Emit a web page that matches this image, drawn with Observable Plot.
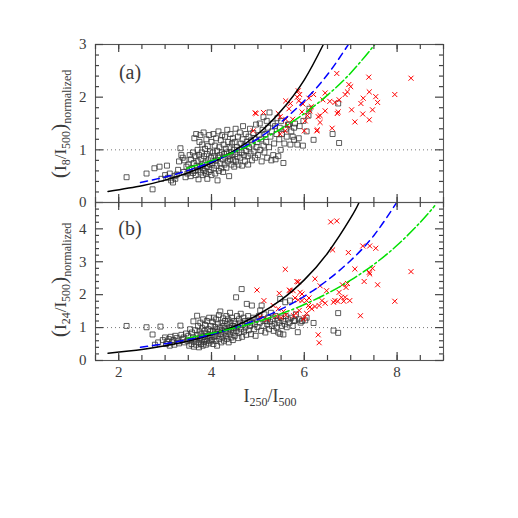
<!DOCTYPE html>
<html>
<head>
<meta charset="utf-8">
<script src="https://cdn.jsdelivr.net/npm/d3@7"></script>
<script src="https://cdn.jsdelivr.net/npm/@observablehq/plot@0.6"></script>
<style>
  html, body { margin: 0; padding: 0; background: white; }
  #wrap { position: relative; width: 518px; height: 518px; overflow: hidden; }
  #wrap svg { position: absolute; left: 0; }
</style>
</head>
<body>
<div id="wrap"></div>
<script>
// ---------- data ----------
const xDomain = [1.5, 9];
const yDomainA = [0, 3];
const yDomainB = [0, 4.8];
const xTickLabels = [2, 4, 6, 8];
const xMinorTicks = [1.5, 2, 2.5, 3, 3.5, 4, 4.5, 5, 5.5, 6, 6.5, 7, 7.5, 8, 8.5, 9];
const yTickLabelsA = [0, 1, 2, 3];
const yTickLabelsB = [0, 1, 2, 3, 4];
const yMinorA = [0.2, 0.4, 0.6, 0.8, 1.2, 1.4, 1.6, 1.8, 2.2, 2.4, 2.6, 2.8];
const yMinorB = [0.2, 0.4, 0.6, 0.8, 1.2, 1.4, 1.6, 1.8, 2.2, 2.4, 2.6, 2.8, 3.2, 3.4, 3.6, 3.8, 4.2, 4.4, 4.6];

// panel (a): model curves
const blackA = [[1.77,0.21],[2.5,0.32],[3.0,0.425],[3.5,0.565],[4.0,0.75],[4.5,0.99],[5.0,1.3],[5.5,1.74],[6.0,2.33],[6.41,3.0]];
const blueA  = [[2.47,0.38],[3.0,0.485],[3.5,0.61],[4.0,0.77],[4.5,0.965],[5.0,1.215],[5.5,1.53],[6.0,1.93],[6.5,2.43],[6.95,3.0]];
const greenA = [[3.47,0.65],[4.0,0.795],[4.5,0.96],[5.0,1.16],[5.5,1.4],[6.0,1.69],[6.5,2.04],[7.0,2.46],[7.52,3.0]];

// panel (b): model curves
const blackB = [[1.77,0.22],[2.5,0.335],[3.0,0.445],[3.5,0.59],[4.0,0.785],[4.5,1.04],[5.0,1.39],[5.5,1.84],[6.0,2.45],[6.5,3.26],[7.0,4.33],[7.18,4.8]];
const blueB  = [[2.47,0.40],[3.0,0.51],[3.5,0.635],[4.0,0.795],[4.5,0.995],[5.0,1.25],[5.5,1.56],[6.0,1.95],[6.5,2.44],[7.0,3.04],[7.5,3.8],[7.99,4.8]];
const greenB = [[3.47,0.68],[4.0,0.825],[4.5,0.985],[5.0,1.18],[5.5,1.42],[6.0,1.70],[6.5,2.04],[7.0,2.44],[7.5,2.92],[8.0,3.5],[8.5,4.2],[8.81,4.7]];

// panel (a): open squares
const squaresA = [
[2.17,0.48],[2.6,0.55],[2.73,0.25],[2.77,0.65],[2.88,0.68],[2.92,0.45],[3.0,0.52],[3.04,0.70],[3.06,0.47],[3.1,0.55],[3.13,0.42],[3.17,0.38],[3.2,0.5],[3.22,0.45],[3.25,0.53],[3.28,0.62],[3.3,0.78],[3.33,1.03],[3.35,0.9],[3.38,0.85],[3.4,0.58],[3.42,0.8],[3.44,0.48],[3.46,0.68],[3.48,0.55],
[3.5,0.72],[3.52,0.62],[3.53,0.9],[3.55,0.5],[3.56,0.82],[3.58,0.65],[3.6,0.95],[3.6,0.56],[3.62,0.75],[3.63,1.22],[3.64,0.6],[3.65,0.88],[3.66,0.52],[3.67,1.3],[3.68,0.7],[3.7,0.78],[3.7,1.0],[3.71,0.62],[3.72,0.44],[3.73,0.9],[3.74,1.15],[3.75,0.68],[3.76,1.28],[3.77,0.57],[3.78,0.83],[3.79,0.95],[3.8,0.72],[3.8,1.1],[3.81,0.52],[3.82,0.65],[3.83,1.33],[3.84,0.88],[3.85,0.6],[3.86,1.02],[3.87,0.76],[3.88,0.55],[3.89,1.2],[3.9,0.92],[3.9,0.68],[3.91,0.45],[3.92,1.07],[3.93,0.8],[3.94,0.58],[3.95,1.28],[3.96,0.73],[3.97,0.97],[3.98,0.62],[3.99,0.85],[4.0,1.15],[4.0,0.52],
[4.02,0.75],[4.03,0.95],[4.04,1.3],[4.05,0.65],[4.06,0.88],[4.07,1.08],[4.08,0.55],[4.09,0.8],[4.1,1.22],[4.11,0.7],[4.12,0.98],[4.13,0.42],[4.14,0.85],[4.15,1.35],[4.16,0.6],[4.17,1.05],[4.18,0.9],[4.19,0.74],[4.2,1.18],[4.21,0.65],[4.22,0.95],[4.23,1.28],[4.24,0.82],[4.25,0.58],[4.26,1.1],[4.27,0.92],[4.28,0.72],[4.29,1.25],[4.3,0.85],[4.31,1.02],[4.32,0.66],[4.33,0.95],[4.34,1.38],[4.35,0.78],[4.36,1.15],[4.37,0.88],[4.38,0.5],[4.39,1.05],[4.4,0.82],[4.41,1.3],[4.42,0.95],[4.43,0.72],[4.44,1.12],[4.45,0.9],[4.46,1.22],[4.47,0.8],[4.48,1.0],[4.49,0.68],
[4.5,1.15],[4.51,0.92],[4.52,1.4],[4.53,0.78],[4.55,1.05],[4.56,0.87],[4.57,1.25],[4.58,0.72],[4.6,1.0],[4.61,1.33],[4.62,0.85],[4.63,1.12],[4.65,0.95],[4.66,0.7],[4.67,1.2],[4.68,1.45],[4.7,0.9],[4.71,1.08],[4.72,0.78],[4.74,1.3],[4.75,0.98],[4.76,1.15],[4.78,0.88],[4.79,0.72],[4.8,1.25],[4.81,1.05],[4.83,1.4],[4.84,0.93],[4.85,1.18],[4.87,0.8],[4.88,1.1],[4.9,1.32],[4.91,0.97],[4.93,1.22],[4.94,0.85],[4.96,1.48],[4.97,1.05],[4.99,1.15],[5.0,0.9],
[5.02,1.28],[5.04,1.5],[5.05,1.0],[5.07,1.2],[5.08,0.78],[5.1,1.38],[5.12,1.62],[5.12,1.08],[5.14,0.95],[5.16,1.3],[5.18,1.15],[5.19,1.55],[5.2,0.85],[5.22,1.42],[5.24,1.05],[5.25,1.71],[5.27,1.25],[5.29,0.8],[5.3,1.35],[5.32,1.5],[5.33,0.9],[5.35,1.12],[5.37,1.45],[5.38,0.82],[5.4,1.3],[5.42,1.6],[5.44,0.88],[5.46,1.2],[5.47,1.42],[5.49,1.0],[5.5,1.55],[5.52,1.3],[5.55,0.75],[5.57,1.12],[5.6,1.4],
[5.62,1.25],[5.65,1.48],[5.67,1.48],[5.7,1.1],[5.72,1.35],[5.75,1.25],[5.78,1.42],[5.78,1.19],[5.8,1.5],[5.85,1.1],[5.88,1.22],[5.9,1.45],[5.97,1.08],[5.98,1.55],[6.05,1.35],[6.09,1.65],[6.11,1.78],[6.2,1.19],[6.61,1.3],[6.73,1.88],[6.75,1.13]
];

// panel (a): crosses
const crossesA = [
[4.9,1.36],[4.94,1.70],[4.96,1.69],[5.12,1.71],[5.44,1.69],[5.48,1.63],[5.48,1.30],[5.59,1.36],[5.6,1.58],[5.6,1.93],[5.64,1.46],[5.67,1.78],[5.7,1.88],[5.75,1.58],[5.85,2.0],[5.87,2.12],[5.88,1.93],[5.9,2.05],[5.95,1.72],[5.97,1.87],[6.0,1.36],[6.02,1.55],[6.07,1.65],[6.1,1.98],[6.12,1.74],[6.15,1.82],[6.2,2.05],[6.27,1.36],[6.28,1.38],[6.3,1.63],[6.34,1.65],[6.34,1.52],[6.4,1.95],[6.45,1.74],[6.45,2.08],[6.55,1.92],[6.6,1.41],[6.66,1.90],[6.7,2.45],[6.71,1.69],[6.73,1.72],[6.75,1.95],[6.88,2.05],[6.93,2.1],[6.96,2.24],[7.0,2.2],[7.02,1.76],[7.09,1.53],[7.22,1.88],[7.26,1.68],[7.27,1.98],[7.39,2.38],[7.4,2.10],[7.4,1.57],[7.47,1.76],[7.54,2.01],[7.58,1.90],[7.95,2.05],[8.3,2.36]
];

// panel (b): open squares
const squaresB = [
[2.17,1.05],[2.6,1.01],[2.73,0.79],[2.78,0.48],[2.85,0.55],[2.9,1.03],[2.95,0.62],[3.0,0.7],[3.02,0.5],[3.05,0.58],[3.08,0.65],[3.1,0.45],[3.12,0.72],[3.15,0.55],[3.18,0.62],[3.2,0.48],[3.22,0.75],[3.25,0.68],[3.28,0.58],[3.3,0.52],[3.33,1.06],[3.35,0.78],[3.38,0.65],[3.4,0.7],[3.42,0.55],[3.45,0.82],[3.48,0.6],
[3.5,0.75],[3.52,0.45],[3.54,0.95],[3.55,0.62],[3.57,0.5],[3.58,0.85],[3.6,0.7],[3.61,1.19],[3.62,0.42],[3.63,0.58],[3.65,0.92],[3.66,0.66],[3.67,0.48],[3.69,1.36],[3.7,0.78],[3.71,1.05],[3.72,0.55],[3.73,0.4],[3.74,0.88],[3.75,0.68],[3.76,1.15],[3.77,0.5],[3.78,0.8],[3.79,0.62],[3.8,0.98],[3.81,0.45],[3.82,1.25],[3.83,0.72],[3.84,0.56],[3.85,0.9],[3.86,1.08],[3.87,0.65],[3.88,0.48],[3.89,0.82],[3.9,1.2],[3.91,0.6],[3.92,0.75],[3.93,0.95],[3.94,0.52],[3.95,1.3],[3.96,0.7],[3.97,0.88],[3.98,0.58],[3.99,1.05],[4.0,0.78],
[4.01,0.62],[4.02,1.18],[4.03,0.9],[4.04,0.5],[4.05,1.3],[4.06,0.72],[4.07,1.02],[4.08,0.82],[4.09,0.6],[4.1,1.25],[4.11,0.95],[4.12,0.45],[4.13,0.75],[4.14,1.12],[4.15,0.88],[4.16,1.38],[4.17,0.65],[4.18,1.0],[4.19,1.49],[4.2,0.8],[4.21,0.55],[4.22,1.15],[4.23,0.92],[4.24,0.7],[4.25,1.28],[4.26,1.05],[4.27,0.6],[4.28,0.85],[4.29,1.2],[4.3,0.98],[4.31,0.75],[4.32,1.35],[4.33,0.65],[4.34,1.1],[4.35,0.88],[4.36,1.25],[4.37,0.55],[4.38,1.0],[4.39,0.8],[4.4,1.45],[4.41,1.15],[4.42,0.92],[4.43,0.7],[4.44,1.3],[4.45,1.05],[4.46,0.62],[4.47,0.85],[4.48,1.2],[4.49,0.98],
[4.5,0.75],[4.51,1.12],[4.53,1.92],[4.54,0.9],[4.55,1.35],[4.56,1.02],[4.58,0.68],[4.59,1.25],[4.6,0.85],[4.62,1.15],[4.63,1.42],[4.64,0.95],[4.65,2.17],[4.66,0.72],[4.67,1.08],[4.69,1.3],[4.7,0.88],[4.72,1.2],[4.73,1.0],[4.75,0.78],[4.76,1.72],[4.77,1.12],[4.79,1.35],[4.8,0.92],[4.82,1.22],[4.83,1.05],[4.85,0.8],[4.87,1.67],[4.88,1.15],[4.9,1.3],[4.92,0.95],[4.93,1.1],[4.95,0.75],[4.97,1.25],[4.99,1.02],
[5.02,1.35],[5.04,1.15],[5.05,1.52],[5.07,0.9],[5.08,1.67],[5.1,1.25],[5.12,1.05],[5.14,1.4],[5.16,0.85],[5.18,1.2],[5.2,1.1],[5.22,1.3],[5.24,0.95],[5.26,1.18],[5.28,1.45],[5.3,1.05],[5.32,1.25],[5.34,0.9],[5.36,1.12],[5.38,1.35],[5.4,1.0],[5.42,1.22],[5.44,0.85],[5.46,1.15],[5.48,1.87],[5.48,0.81],[5.5,1.3],[5.52,1.05],[5.55,0.79],[5.55,1.2],[5.58,1.1],[5.59,1.77],[5.6,1.35],
[5.62,1.01],[5.65,1.25],[5.68,1.15],[5.69,1.82],[5.72,1.3],[5.75,1.05],[5.78,1.2],[5.8,1.22],[5.82,1.4],[5.86,0.86],[5.88,1.25],[5.92,1.15],[5.95,1.2],[6.02,1.22],[6.05,1.3],[6.2,1.14],[6.63,0.91],[6.73,0.84],[6.73,1.44]
];

// panel (b): crosses
const crossesB = [
[4.98,2.14],[5.05,1.32],[5.13,1.82],[5.2,1.25],[5.33,1.67],[5.4,1.35],[5.44,1.57],[5.46,2.04],[5.5,1.3],[5.55,1.49],[5.59,2.77],[5.6,1.38],[5.68,2.14],[5.69,2.12],[5.76,2.12],[5.77,1.36],[5.8,1.9],[5.82,1.43],[5.84,2.40],[5.87,2.39],[5.87,1.84],[5.89,1.52],[5.91,2.07],[5.95,2.02],[5.95,1.82],[5.98,1.26],[6.01,1.31],[6.05,1.43],[6.05,1.82],[6.09,1.67],[6.1,1.9],[6.12,1.62],[6.16,1.57],[6.23,2.48],[6.23,1.64],[6.3,0.78],[6.32,0.54],[6.32,1.67],[6.34,2.27],[6.38,1.82],[6.45,1.74],[6.48,2.12],[6.57,4.21],[6.61,3.36],[6.63,1.77],[6.66,1.82],[6.7,4.24],[6.72,1.80],[6.75,2.07],[6.8,1.92],[6.82,2.30],[6.85,1.80],[6.88,1.92],[6.9,2.22],[6.93,2.34],[6.95,3.28],[6.98,1.82],[7.09,2.78],[7.21,1.36],[7.26,3.48],[7.29,2.40],[7.4,2.68],[7.41,3.48],[7.41,2.63],[7.47,2.80],[7.54,3.41],[7.58,2.30],[7.95,1.80],[8.3,2.70]
];

// ---------- layout ----------
const W = 518, ML = 95, MR = 75;
const PW = W - ML - MR, PH = 158;
const ink = "#3a3a3a";
const frameInk = "#555";
const tickInk = "#444";
const fontFamily = "'Liberation Serif', 'DejaVu Serif', serif";

function dataMarks(sq, cr, bk, bl, gr) {
  return [
    Plot.ruleY([1], {stroke: "#555", strokeWidth: 0.8, strokeDasharray: "1,3"}),
    Plot.dot(sq, {x: d => d[0], y: d => d[1], symbol: "square", r: 2.8, fill: "none", stroke: "#333", strokeWidth: 0.8}),
    Plot.dot(cr, {x: d => d[0], y: d => d[1], symbol: "times", r: 2.4, stroke: "#ff0000", strokeWidth: 1}),
    Plot.line(bk, {x: d => d[0], y: d => d[1], curve: "natural", stroke: "#000", strokeWidth: 1.5, clip: true}),
    Plot.line(bl, {x: d => d[0], y: d => d[1], curve: "natural", stroke: "#0000ff", strokeWidth: 1.5, strokeDasharray: "7,5", clip: true}),
    Plot.line(gr, {x: d => d[0], y: d => d[1], curve: "natural", stroke: "#00e000", strokeWidth: 1.5, strokeDasharray: "11,3,2,3", clip: true})
  ];
}

// inward ticks on all four sides, as Plot tick marks inset to a short length
function frameTicks(yMajor, yMinor) {
  const o = {stroke: tickInk, strokeWidth: 1.2};
  return [
    Plot.tickX(xMinorTicks, {...o, x: d => d, insetTop: PH - 5}),
    Plot.tickX(xMinorTicks, {...o, x: d => d, insetBottom: PH - 5}),
    Plot.tickX(xTickLabels, {...o, x: d => d, insetTop: PH - 8}),
    Plot.tickX(xTickLabels, {...o, x: d => d, insetBottom: PH - 8}),
    Plot.tickY(yMinor, {...o, y: d => d, insetRight: PW - 4}),
    Plot.tickY(yMinor, {...o, y: d => d, insetLeft: PW - 4}),
    Plot.tickY(yMajor, {...o, y: d => d, insetRight: PW - 8}),
    Plot.tickY(yMajor, {...o, y: d => d, insetLeft: PW - 8})
  ];
}

const commonStyle = {background: "transparent", overflow: "visible", fontFamily, fontSize: "15px", color: ink};

const chartA = Plot.plot({
  width: W, height: 214,
  marginLeft: ML, marginRight: MR, marginTop: 44, marginBottom: 12,
  style: commonStyle,
  x: {domain: xDomain},
  y: {domain: yDomainA},
  marks: [
    ...dataMarks(squaresA, crossesA, blackA, blueA, greenA),
    Plot.frame({stroke: frameInk, strokeWidth: 1.1}),
    ...frameTicks(yTickLabelsA, yMinorA),
    Plot.axisY(yTickLabelsA, {tickSize: 0, tickPadding: 9, label: null, fontSize: 15, fill: ink, tickFormat: d3.format("d")}),
    Plot.axisX([], {label: null, tickSize: 0})
  ]
});

const chartB = Plot.plot({
  width: W, height: 328,
  marginLeft: ML, marginRight: MR, marginTop: 12, marginBottom: 158,
  style: commonStyle,
  x: {domain: xDomain},
  y: {domain: yDomainB},
  marks: [
    ...dataMarks(squaresB, crossesB, blackB, blueB, greenB),
    Plot.frame({stroke: frameInk, strokeWidth: 1.1}),
    ...frameTicks(yTickLabelsB, yMinorB),
    Plot.axisY(yTickLabelsB, {tickSize: 0, tickPadding: 9, label: null, fontSize: 15, fill: ink, tickFormat: d3.format("d")}),
    Plot.axisX(xTickLabels, {tickSize: 0, tickPadding: 6, label: null, fontSize: 15, fill: ink, tickFormat: d3.format("d")})
  ]
});

const wrap = document.getElementById("wrap");
chartA.style.top = "0px";
chartB.style.top = "190px";
wrap.appendChild(chartA);
wrap.appendChild(chartB);

// ---------- rich text labels ----------
function yLabel(svg, cx, cy, sub1) {
  const t = d3.select(svg).append("text")
    .attr("transform", `translate(${cx},${cy}) rotate(-90)`)
    .attr("text-anchor", "middle")
    .attr("font-family", fontFamily)
    .attr("font-size", 17)
    .attr("fill", ink);
  t.append("tspan").attr("font-size", 22).text("(");
  t.append("tspan").text("I");
  t.append("tspan").attr("font-size", 12).attr("dy", 4).text(sub1);
  t.append("tspan").attr("dy", -4).text("/I");
  t.append("tspan").attr("font-size", 12).attr("dy", 4).text("500");
  t.append("tspan").attr("font-size", 22).attr("dy", -4).text(")");
  t.append("tspan").attr("font-size", 12).attr("dy", 5).text("normalized");
}
yLabel(chartA, 66, 124, "8");
yLabel(chartB, 66, 90, "24");

function panelLabel(svg, x, y, s) {
  d3.select(svg).append("text").attr("x", x).attr("y", y)
    .attr("font-family", fontFamily).attr("font-size", 20).attr("fill", ink).text(s);
}
panelLabel(chartA, 130, 79, "(a)");
panelLabel(chartB, 130, 45, "(b)");

const xLab = d3.select(chartB).append("text")
  .attr("x", 270).attr("y", 212).attr("text-anchor", "middle")
  .attr("font-family", fontFamily).attr("font-size", 18).attr("fill", ink);
xLab.append("tspan").text("I");
xLab.append("tspan").attr("font-size", 12).attr("dy", 4).text("250");
xLab.append("tspan").attr("dy", -4).text("/I");
xLab.append("tspan").attr("font-size", 12).attr("dy", 4).text("500");
</script>
</body>
</html>
